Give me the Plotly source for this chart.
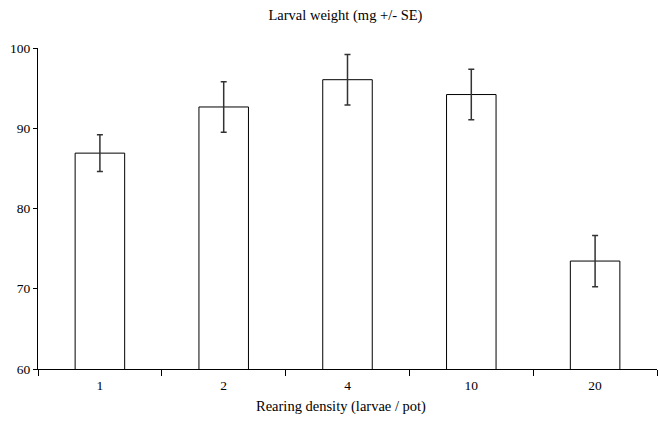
import plotly.graph_objects as go

categories = ["1", "2", "4", "10", "20"]
weights = [86.9, 92.65, 96.05, 94.2, 73.45]
se = [2.3, 3.15, 3.15, 3.15, 3.2]

fig = go.Figure()
fig.add_trace(go.Bar(
    x=categories, y=weights,
    width=0.4,
    marker=dict(color="white", line=dict(color="black", width=1)),
    error_y=dict(type="data", array=se, visible=True, color="#333333", thickness=1.5, width=3),
))

font = "Liberation Serif, Times New Roman, serif"
fig.update_layout(
    width=658, height=424,
    margin=dict(l=38, r=1, t=48, b=55),
    paper_bgcolor="white", plot_bgcolor="white",
    showlegend=False,
    title=dict(text="Larval weight (mg +/- SE)", x=0.525, xanchor="center", y=0.965, yanchor="middle",
               font=dict(family=font, size=14.5, color="black")),
    font=dict(family=font, size=13, color="black"),
    annotations=[dict(text="Rearing density (larvae / pot)", xref="paper", yref="paper",
                      x=0.49, y=-0.118, xanchor="center", yanchor="middle", showarrow=False,
                      font=dict(family=font, size=14.5, color="black"))],
)
fig.update_xaxes(
    type="category", range=[-0.5, 4.5],
    showline=True, linecolor="black", linewidth=1,
    ticks="outside", tickson="boundaries", ticklen=6, tickcolor="black",
    showgrid=False, ticklabelstandoff=4,
    tickfont=dict(family=font, size=13.5),
)
fig.update_yaxes(
    range=[60, 100], tickvals=[60, 70, 80, 90, 100],
    showline=True, linecolor="black", linewidth=1,
    ticks="outside", ticklen=4, tickcolor="black",
    showgrid=False, zeroline=False,
    tickfont=dict(family=font, size=13.5),
)
fig.write_html("out.html")
